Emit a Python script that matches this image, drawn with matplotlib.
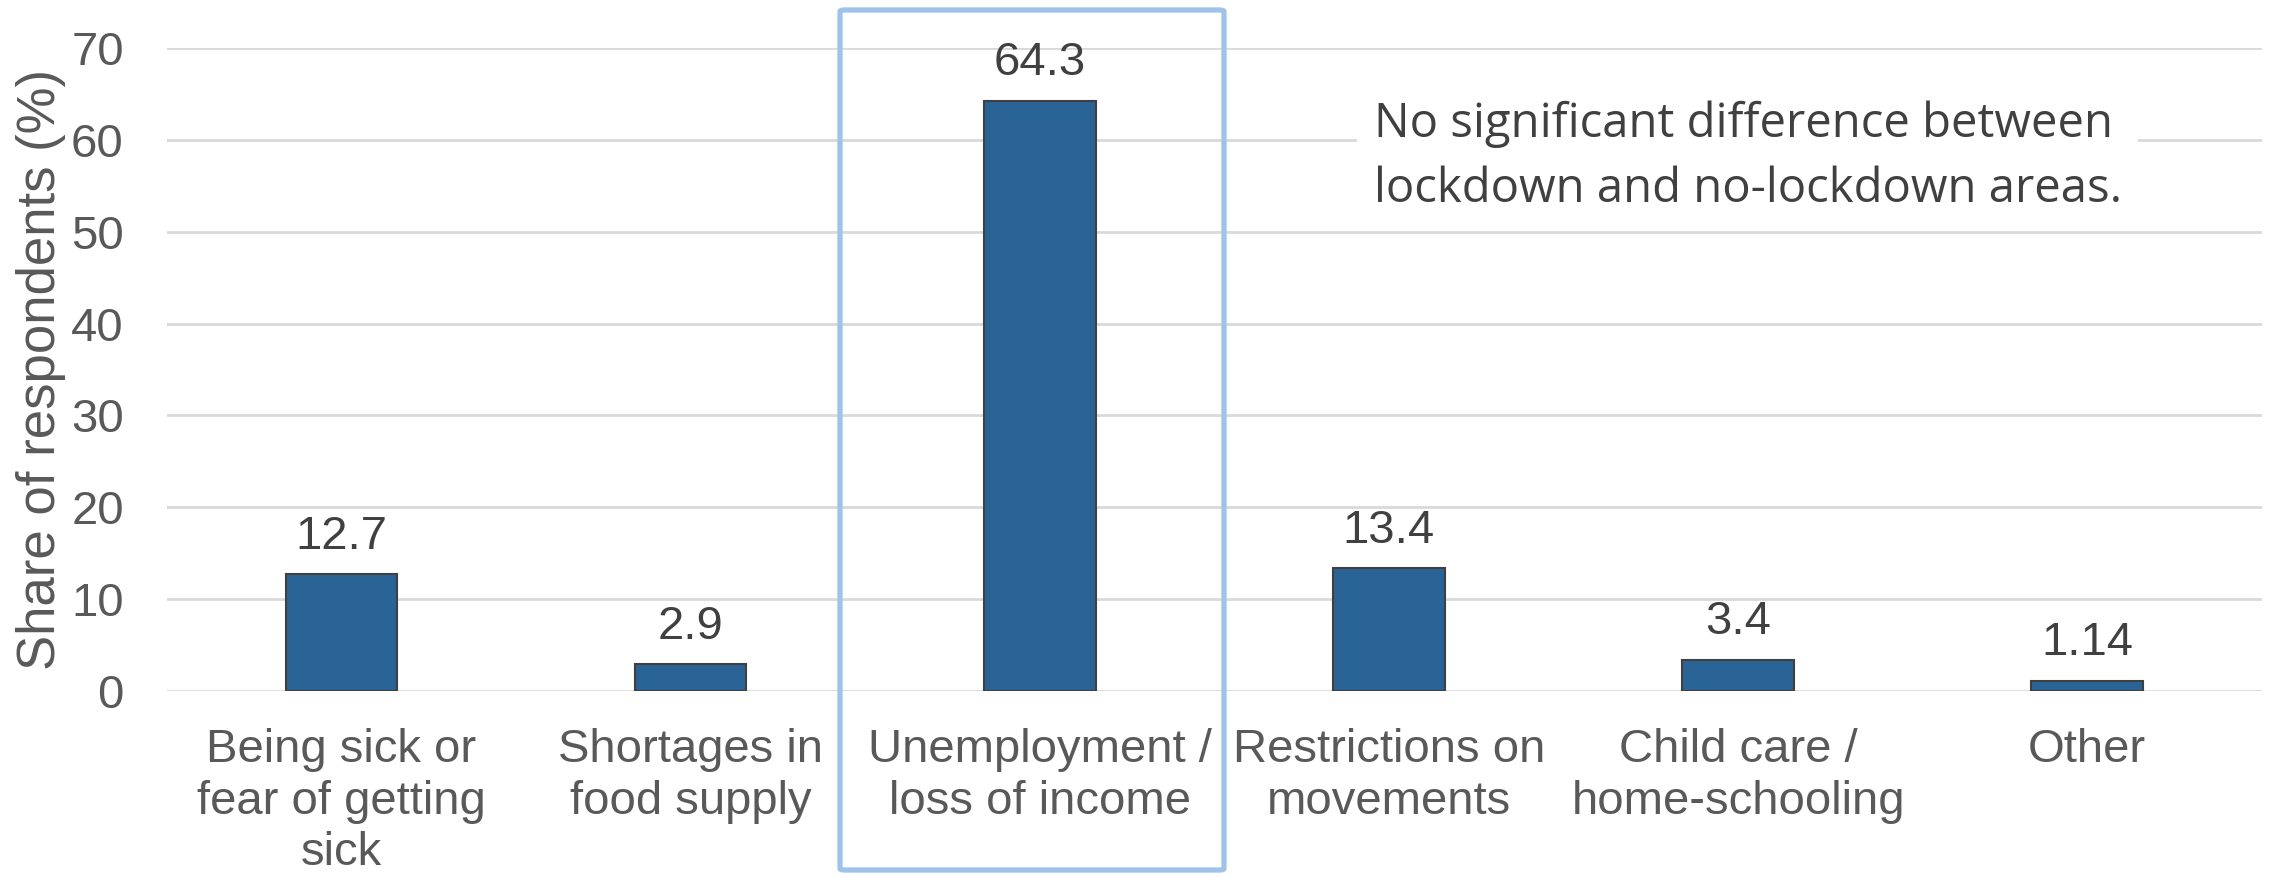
import matplotlib.pyplot as plt
from matplotlib import font_manager
from matplotlib.patches import FancyBboxPatch

categories = [
    "Being sick or\nfear of getting\nsick",
    "Shortages in\nfood supply",
    "Unemployment /\nloss of income",
    "Restrictions on\nmovements",
    "Child care /\nhome-schooling",
    "Other",
]
shares = [12.7, 2.9, 64.3, 13.4, 3.4, 1.14]
value_labels = ["12.7", "2.9", "64.3", "13.4", "3.4", "1.14"]
yticks = [0, 10, 20, 30, 40, 50, 60, 70]

installed = {f.name for f in font_manager.fontManager.ttflist}
if 'Liberation Sans Narrow' in installed:
    label_family = ['Liberation Sans Narrow', 'DejaVu Sans']
    label_size = 39
else:
    label_family = ['Liberation Sans', 'DejaVu Sans']
    label_size = 34

plt.rcParams['font.family'] = label_family

fig = plt.figure(figsize=(22.8, 8.76), dpi=100)
ax = fig.add_axes([0.0732, 0.2112, 0.9188, 0.7338])

x = range(len(categories))
ax.bar(x, shares, width=0.32, color='#2A6396', edgecolor='#404040',
       linewidth=1.5, zorder=3)

for xi, v, lab in zip(x, shares, value_labels):
    ax.annotate(lab, (xi, v), xytext=(0, 11), textcoords='offset points',
                ha='center', va='bottom', fontsize=label_size, color='#404040')

ax.set_xlim(-0.5, len(categories) - 0.5)
ax.set_ylim(0, 70)
ax.set_yticks(yticks)
ax.set_xticks(list(x))
ax.set_xticklabels(categories, fontsize=label_size, color='#595959',
                   linespacing=1.22)
ax.tick_params(axis='y', labelsize=label_size, labelcolor='#595959',
               length=0, pad=31)
ax.tick_params(axis='x', length=0, pad=27)
ax.grid(axis='y', color='#D9D9D9', linewidth=2, zorder=0)
for s in ax.spines.values():
    s.set_visible(False)

ax.set_ylabel("Share of respondents (%)", fontsize=38, color='#595959',
              family=['Liberation Sans', 'DejaVu Sans'], labelpad=4)

ax.text(0.576, 0.831,
        "No significant difference between\nlockdown and no-lockdown areas.",
        transform=ax.transAxes, fontsize=34, color='#404040',
        family=['Open Sans', 'DejaVu Sans'], va='center', ha='left',
        linespacing=1.5,
        bbox=dict(facecolor='white', edgecolor='none', pad=12), zorder=4)

# highlight frame round the largest category
frame = FancyBboxPatch((840 / 2280, 6 / 876), (1224 - 840) / 2280,
                       (866 - 6) / 876,
                       boxstyle='round,pad=0,rounding_size=0.002',
                       transform=fig.transFigure, fill=False,
                       edgecolor='#9DC3E6', linewidth=3.8, zorder=5)
fig.patches.append(frame)

fig.savefig('out.png', dpi=100)
